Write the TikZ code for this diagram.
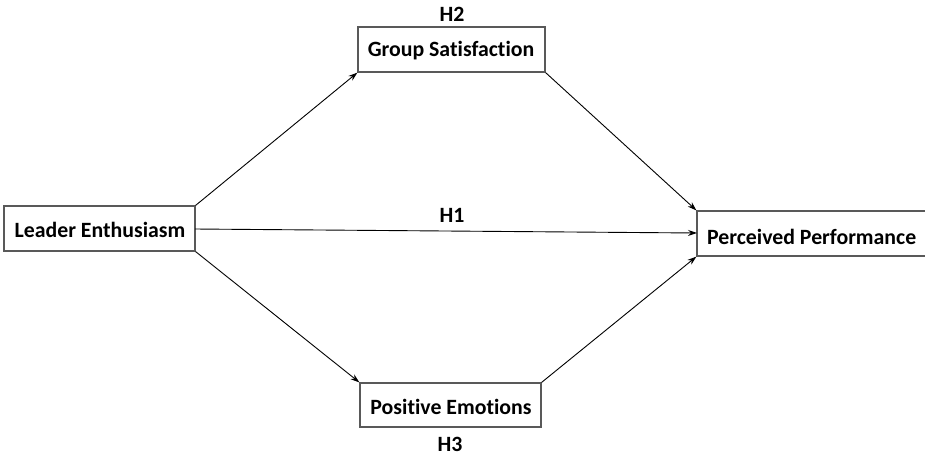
\documentclass[tikz,border=0pt]{standalone}
\usepackage{fontspec}
\setmainfont[Ligatures=NoCommon]{Carlito}
\usetikzlibrary{arrows.meta}
\begin{document}
\begin{tikzpicture}[x=1pt,y=-1pt,
  box/.style={draw=black!65,line width=1.2pt},
  lbl/.style={font=\fontsize{21.8}{26}\selectfont\bfseries,inner sep=0pt},
  conn/.style={line width=0.9pt,-{Stealth[length=9pt,width=6pt]}}]
\useasboundingbox (0,0) rectangle (925,456);
\fill[white] (0,0) rectangle (925,456);
\node[box,minimum width=191pt,minimum height=45pt,inner sep=0pt] (le) at (99.5,228.5) {};
\node[lbl] (let) at (100,230) {Leader Enthusiasm};
\node[box,minimum width=187pt,minimum height=45pt,inner sep=0pt] (gs) at (451.5,49.5) {};
\node[lbl] (gst) at (451,51) {Group Satisfaction};
\node[box,minimum width=181pt,minimum height=44pt,inner sep=0pt] (pe) at (450.5,405) {};
\node[lbl] (pet) at (451,406.5) {Positive Emotions};
\node[box,minimum width=240pt,minimum height=45pt,inner sep=0pt] (pp) at (817,233.5) {};
\node[lbl,anchor=west] (ppt) at (707,237) {Perceived Performance};
\node[lbl] (h2) at (452,14) {H2};
\node[lbl] (h3) at (450,444) {H3};
\node[lbl] (h1) at (452,215) {H1};
\coordinate (lem) at (195,229);
\coordinate (ppm) at (697,233);
\draw[conn] (le.north east) -- (gs.south west);
\draw[conn] (le.south east) -- (pe.north west);
\draw[conn] (lem) -- (ppm);
\draw[conn] (gs.south east) -- (pp.north west);
\draw[conn] (pe.north east) -- (pp.south west);
\end{tikzpicture}
\end{document}
